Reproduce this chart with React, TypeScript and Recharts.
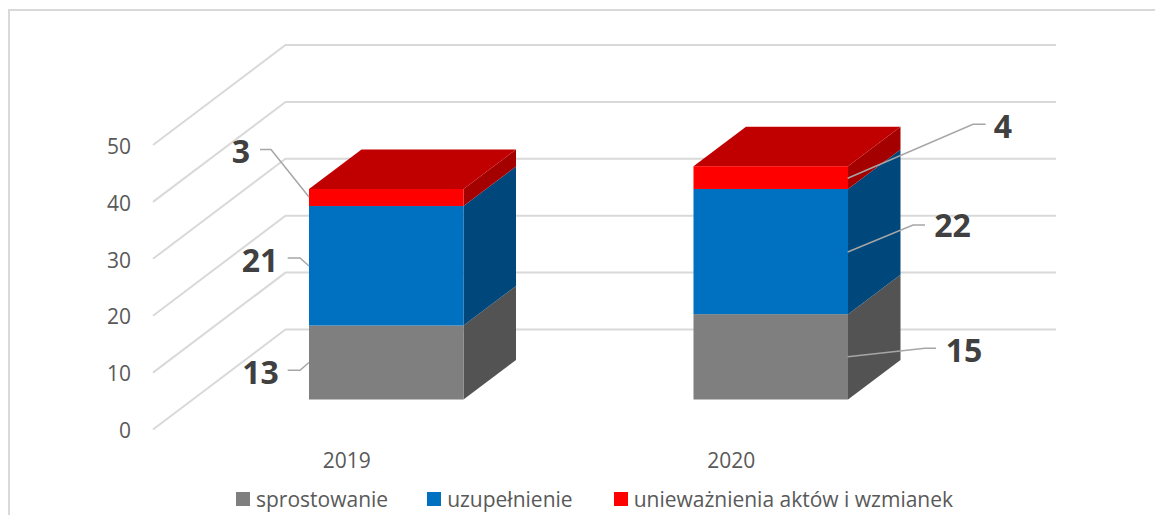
import React from 'react';
import { BarChart, Bar, XAxis, YAxis, Legend, LabelList, CartesianGrid } from 'recharts';

const categories = ['2019', '2020'];
const sprostowanie = [13, 15];
const uzupelnienie = [21, 22];
const uniewaznienia = [3, 4];
const yTicks = [0, 10, 20, 30, 40, 50];

const chartData = categories.map((year, i) => ({
  year,
  sprostowanie: sprostowanie[i],
  uzupelnienie: uzupelnienie[i],
  uniewaznienia: uniewaznienia[i],
}));

// pseudo 3D depth of the bars and the back wall
const DEPTH_X = 52.5;
const DEPTH_Y = 39.5;
const GRID = '#d9d9d9';
const TEXT = '#595959';
const FONT = '"Open Sans", sans-serif';
const legendGaps = [39, 41, 0];

// data label text centre + leader line, relative to the top left corner of the segment
const greyLabels = [
  { text: [-48.5, 47], line: [[-21.3, 44.7], [-9, 44.7], [0, 37]] },
  { text: [270.5, 36], line: [[242.5, 34.2], [231.5, 34.2], [154.2, 42.5]] },
];
const blueLabels = [
  { text: [-49, 54], line: [[-21.3, 52], [-9, 52], [0, 60]] },
  { text: [259, 37], line: [[231.5, 36], [219.5, 36], [154.2, 63]] },
];
const redLabels = [
  { text: [-68, -37], line: [[-49, -39.5], [-38, -39.5], [0, 8]] },
  { text: [309.5, -39.3], line: [[292.2, -42], [279.5, -42], [154.2, 12]] },
];

const makeShape = (side: string, top?: string) => (props: any) => {
  const { x, y, width, height, fill } = props;
  const r = x + width;
  const b = y + height;
  return (
    <g>
      <polygon
        points={`${r},${y} ${r + DEPTH_X},${y - DEPTH_Y} ${r + DEPTH_X},${b - DEPTH_Y} ${r},${b}`}
        fill={side}
      />
      {top && (
        <polygon
          points={`${x},${y} ${x + DEPTH_X},${y - DEPTH_Y} ${r + DEPTH_X},${y - DEPTH_Y} ${r},${y}`}
          fill={top}
        />
      )}
      <rect x={x} y={y} width={width} height={height} fill={fill} />
    </g>
  );
};

const makeLabel = (layout: typeof greyLabels) => (props: any) => {
  const { index, value, viewBox } = props;
  const item = layout[index];
  const x = props.x ?? viewBox.x;
  const y = props.y ?? viewBox.y;
  return (
    <g>
      <polyline
        points={item.line.map(([dx, dy]) => `${x + dx},${y + dy}`).join(' ')}
        fill="none"
        stroke="#a6a6a6"
        strokeWidth={1.5}
      />
      <text
        x={x + item.text[0]}
        y={y + item.text[1] + 11.5}
        textAnchor="middle"
        fontFamily={FONT}
        fontWeight={700}
        fontSize={32}
        fill="#404040"
      >
        {value}
      </text>
    </g>
  );
};

// one gridline per value: side wall diagonal, then along the back wall
const GridLine = ({ y1, key }: any) => (
  <polyline
    key={key}
    points={`153,${y1 + 30} 285.5,${y1 - 70} 1056,${y1 - 70}`}
    fill="none"
    stroke={GRID}
    strokeWidth={2}
  />
);

const YTick = ({ y, payload }: any) => (
  <text x={131} y={y + 38.7} textAnchor="end" fontFamily={FONT} fontSize={21} fill={TEXT}>
    {payload.value}
  </text>
);

const XTick = ({ x, y, payload }: any) => (
  <text x={x - 39.5} y={y + 60} textAnchor="middle" fontFamily={FONT} fontSize={21} fill={TEXT}>
    {payload.value}
  </text>
);

const LegendRow = ({ payload }: any) => (
  <div style={{ display: 'flex', alignItems: 'center', whiteSpace: 'nowrap', fontFamily: FONT, fontSize: 21, color: TEXT }}>
    {(payload || []).map((entry: any, i: number) => (
      <div key={entry.value} style={{ display: 'flex', alignItems: 'center', marginRight: legendGaps[i] }}>
        <span style={{ width: 14, height: 14, background: entry.color, marginRight: 6, display: 'inline-block' }} />
        {entry.value}
      </div>
    ))}
  </div>
);

export default function App() {
  return (
    <div style={{ position: 'absolute', left: 0, top: 0, width: 1155, height: 515, overflow: 'hidden', background: '#fff' }}>
      <div style={{ position: 'absolute', left: 8, top: 9, right: 0, bottom: 0, borderLeft: `2px solid ${GRID}`, borderTop: `2px solid ${GRID}` }} />
      <BarChart
        width={1155}
        height={515}
        data={chartData}
        margin={{ top: 115, right: 192, left: 134, bottom: 65.5 }}
        style={{ position: 'absolute', left: 0, top: 0 }}
      >
        <CartesianGrid vertical={false} horizontal={GridLine} horizontalValues={yTicks} />
        <YAxis
          width={60}
          domain={[0, 50]}
          ticks={yTicks}
          interval={0}
          axisLine={false}
          tickLine={false}
          tick={YTick}
        />
        <XAxis dataKey="year" height={30} axisLine={false} tickLine={false} tick={XTick} />
        <Legend
          height={20}
          itemSorter={null}
          content={LegendRow}
          wrapperStyle={{ left: 236, top: 485, width: 900 }}
        />
        <Bar dataKey="sprostowanie" name="sprostowanie" stackId="a" barSize={154.5} fill="#7f7f7f" isAnimationActive={false} shape={makeShape('#535353')}>
          <LabelList dataKey="sprostowanie" content={makeLabel(greyLabels)} />
        </Bar>
        <Bar dataKey="uzupelnienie" name="uzupełnienie" stackId="a" barSize={154.5} fill="#0070c0" isAnimationActive={false} shape={makeShape('#00487c')}>
          <LabelList dataKey="uzupelnienie" content={makeLabel(blueLabels)} />
        </Bar>
        <Bar dataKey="uniewaznienia" name="unieważnienia aktów i wzmianek" stackId="a" barSize={154.5} fill="#ff0000" isAnimationActive={false} shape={makeShape('#a50000', '#c00000')}>
          <LabelList dataKey="uniewaznienia" content={makeLabel(redLabels)} />
        </Bar>
      </BarChart>
    </div>
  );
}
